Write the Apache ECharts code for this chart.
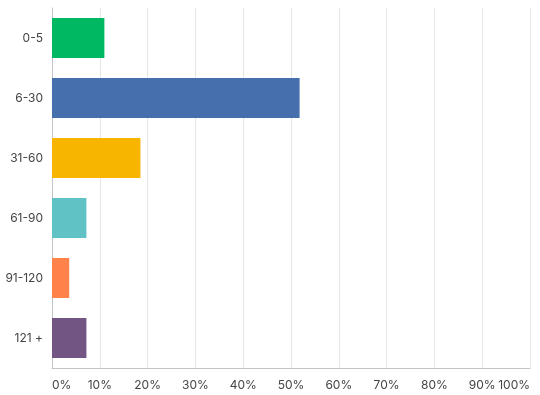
<!DOCTYPE html>
<html><head><meta charset="utf-8">
<script src="https://cdn.jsdelivr.net/npm/echarts@6/dist/echarts.min.js"></script>
<style>html,body{margin:0;padding:0;background:#fff}#c{width:540px;height:395px}</style>
</head><body><div id="c"></div>
<script>
const categories = ['0-5', '6-30', '31-60', '61-90', '91-120', '121 +'];
const values = [10.96, 51.8, 18.5, 7.2, 3.6, 7.2];
const colors = ['#00B862', '#4670AD', '#F8B500', '#61C2C6', '#FF824A', '#735584'];
const xTicks = [0, 10, 20, 30, 40, 50, 60, 70, 80, 90, 100];

const chart = echarts.init(document.getElementById('c'), null, {renderer: 'canvas'});
chart.setOption({
  animation: false,
  grid: {left: 52, right: 10, top: 8, bottom: 27, containLabel: false},
  xAxis: {
    type: 'value', min: 0, max: 100, interval: 10,
    axisLine: {show: true, lineStyle: {color: '#c4c4c4', width: 1}},
    axisTick: {show: false},
    splitLine: {show: true, lineStyle: {color: '#e6e6e6', width: 1}},
    axisLabel: {
      formatter: v => xTicks.includes(v) ? v + '%' : '',
      color: '#444', fontFamily: 'Inter', fontSize: 12, margin: 11,
      alignMinLabel: 'left', alignMaxLabel: 'right'
    }
  },
  yAxis: {
    type: 'category', data: categories, inverse: true,
    axisLine: {show: true, lineStyle: {color: '#c4c4c4', width: 1}},
    axisTick: {show: false},
    axisLabel: {color: '#444', fontFamily: 'Inter', fontSize: 12, margin: 9}
  },
  series: [{
    type: 'bar',
    data: values.map((v, i) => ({value: v, itemStyle: {color: colors[i]}})),
    barCategoryGap: '33.3%'
  }]
});
</script></body></html>
